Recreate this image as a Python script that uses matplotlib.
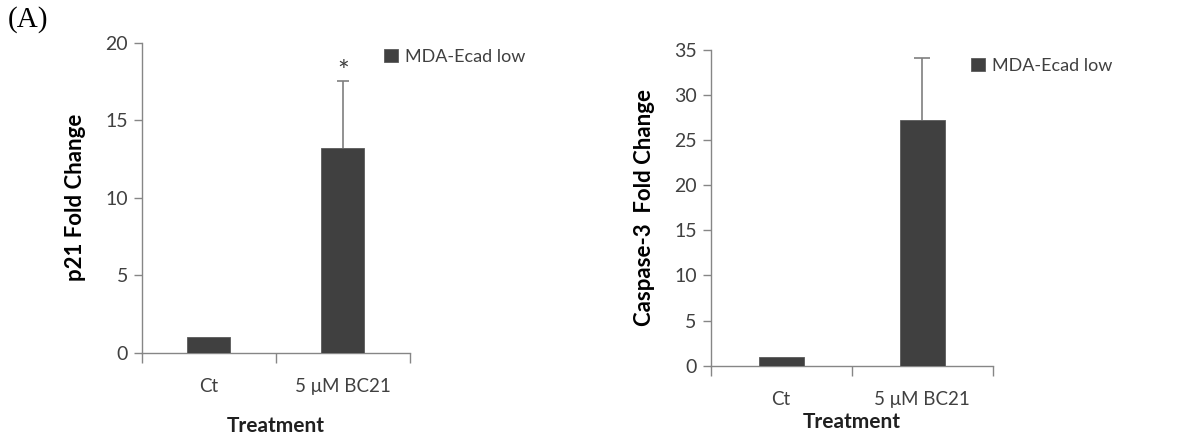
import matplotlib.pyplot as plt
import numpy as np

plt.rcParams['font.family'] = ['Lato', 'DejaVu Sans']

# valores medidos
categorias = ['Ct', '5 μM BC21']
p21_valores = [1.0, 13.2]
p21_erro = [0.0, 4.3]
casp3_valores = [1.0, 27.2]
casp3_erro = [0.0, 6.9]
serie = 'MDA-Ecad low'

cor_barra = '#404040'
cor_eixo = '#868686'
cor_texto = '#404040'

fig = plt.figure(figsize=(11.88, 4.4), dpi=100)

def desenhar(ax, valores, erro, ylim, passo, ylabel, capsize, leg_pos, pad_x, pad_lab, asterisco=False):
    x = np.arange(len(valores))
    ax.bar(x, valores, width=0.32, color=cor_barra, edgecolor='#5a5a5a', linewidth=0.6,
           label=serie, zorder=3)
    # só a barra de erro superior, e só onde há erro
    tem = np.array(erro) > 0
    eb = ax.errorbar(x[tem], np.array(valores)[tem],
                     yerr=[np.zeros(tem.sum()), np.array(erro)[tem]], fmt='none',
                     ecolor='#7f7f7f', elinewidth=1.2, capsize=capsize, capthick=1.2, zorder=2)
    eb[1][0].set_visible(False)
    if asterisco:
        for xi, v, e in zip(x[tem], np.array(valores)[tem], np.array(erro)[tem]):
            ax.annotate('*', (xi, v + e), xytext=(0, -3), textcoords='offset points',
                        ha='center', va='bottom', fontsize=20, color=cor_texto)
    ax.set_xlim(-0.5, 1.5)
    ax.set_ylim(*ylim)
    ax.set_yticks(np.arange(ylim[0], ylim[1] + 0.1, passo))
    ax.set_xticks([-0.5, 0.5, 1.5])
    ax.set_xticklabels([])
    ax.set_xticks(x, minor=True)
    ax.set_xticklabels(categorias, minor=True)
    ax.tick_params(axis='x', which='major', direction='out', length=7, color=cor_eixo, width=1)
    ax.tick_params(axis='x', which='minor', length=0, pad=pad_x, labelsize=13.5, labelcolor=cor_texto)
    ax.tick_params(axis='y', direction='out', length=6, color=cor_eixo, width=1,
                   labelsize=14, labelcolor=cor_texto, pad=4)
    for s in ['top', 'right']:
        ax.spines[s].set_visible(False)
    for s in ['left', 'bottom']:
        ax.spines[s].set_color(cor_eixo)
        ax.spines[s].set_linewidth(1)
    ax.set_ylabel(ylabel, fontsize=16, fontweight='bold', color='black', labelpad=14)
    ax.set_xlabel('Treatment', fontsize=15, fontweight='bold', color='#202020', labelpad=pad_lab)
    ax.legend(loc='center left', bbox_to_anchor=leg_pos, bbox_transform=fig.transFigure,
              frameon=False, fontsize=13, handlelength=0.75, handleheight=0.75,
              handletextpad=0.4, borderpad=0, borderaxespad=0, labelcolor=cor_texto)

ax1 = fig.add_axes([0.1193, 0.1984, 0.2258, 0.7046])
desenhar(ax1, p21_valores, p21_erro, (0, 20), 5, 'p21 Fold Change', 4.5,
         (384 / 1188, 1 - 57 / 440), 18, 15, asterisco=True)

ax2 = fig.add_axes([0.5982, 0.1689, 0.2374, 0.7175])
desenhar(ax2, casp3_valores, casp3_erro, (0, 35), 5, 'Caspase-3  Fold Change', 6,
         (971 / 1188, 1 - 65.7 / 440), 18, 3)

fig.text(8 / 1188, 1 - 20 / 440, '(A)', fontsize=21, family='Liberation Serif',
         va='center', ha='left', color='black')

plt.savefig('out.png', dpi=100)
